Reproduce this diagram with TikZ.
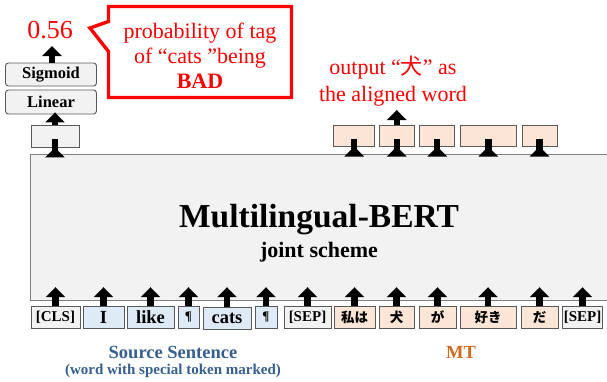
\documentclass[tikz,border=0pt]{standalone}
\usepackage{fontspec}
\setmainfont{Liberation Serif}
\newfontfamily\cjk{Noto Sans CJK JP}
\usetikzlibrary{arrows.meta,shapes.callouts}
\definecolor{boxgray}{HTML}{F2F2F2}
\definecolor{srcfill}{HTML}{DEEBF7}
\definecolor{mtfill}{HTML}{FBE5D6}
\definecolor{edge}{HTML}{595959}
\definecolor{srcblue}{HTML}{365F91}
\definecolor{mtorange}{HTML}{D2691E}
\definecolor{bertedge}{HTML}{7F7F7F}
\tikzset{
  barrow/.style={line width=6.5pt, draw=black, -{Triangle[width=19pt,length=10pt]}},
  tokbox/.style={draw=edge, line width=1pt, minimum height=22pt, inner sep=0pt},
  clsbox/.style={tokbox, fill=boxgray, font=\bfseries\fontsize{15}{15}\selectfont},
  srcbox/.style={tokbox, fill=srcfill, font=\bfseries\fontsize{18.5}{18.5}\selectfont},
  parabox/.style={tokbox, fill=srcfill, font=\bfseries\fontsize{13}{13}\selectfont},
  mtbox/.style={tokbox, fill=mtfill, font=\cjk\bfseries\fontsize{13.5}{13.5}\selectfont},
  outbox/.style={draw=edge, line width=1pt, fill=mtfill, minimum height=21pt, inner sep=0pt},
  layerbox/.style={draw=edge, line width=0.9pt, fill=boxgray, rounded corners=3pt,
    minimum width=91pt, inner sep=0pt, font=\bfseries\fontsize{16.5}{16.5}\selectfont},
  redtext/.style={text=red, inner sep=0pt, align=center, font=\fontsize{22}{25}\selectfont}
}
\begin{document}
\begin{tikzpicture}[x=1pt,y=-1pt]
\useasboundingbox (0,0) rectangle (607,381);

% BERT block
\node[fill=boxgray, draw=none, minimum width=576pt, minimum height=145pt, inner sep=0pt] (bert) at (319,227.5) {};
\draw[bertedge, line width=1.3pt] (bert.north east) -- (bert.north west) -- (bert.south west) -- (bert.south east);
\node[font=\bfseries\fontsize{33.5}{33.5}\selectfont, anchor=base, inner sep=0pt] (title) at (319,227) {Multilingual-BERT};
\node[font=\bfseries\fontsize{22}{22}\selectfont, anchor=base, inner sep=0pt] (subtitle) at (319,257) {joint scheme};

% input tokens
\node[clsbox, minimum width=49pt] (cls) at (55.5,317) {[CLS]};
\node[srcbox, minimum width=41pt] (tI) at (103.5,317) {I};
\node[srcbox, minimum width=47pt] (like) at (150.5,317) {like};
\node[parabox, minimum width=21pt] (pa) at (188.5,317) {¶};
\node[srcbox, minimum width=48pt] (cats) at (227,318) {cats};
\node[parabox, minimum width=22pt] (pb) at (266,317) {¶};
\node[clsbox, minimum width=47pt] (sepa) at (307.5,317) {[SEP]};
\node[mtbox, minimum width=41pt] (watashi) at (354.5,317) {私は};
\node[mtbox, minimum width=35pt] (inu) at (396.5,317) {犬};
\node[mtbox, minimum width=37pt] (ga) at (437.5,317) {が};
\node[mtbox, minimum width=56pt] (suki) at (488,317) {好き};
\node[mtbox, minimum width=37pt] (da) at (539.5,317) {だ};
\node[clsbox, minimum width=40pt] (sepb) at (582.5,317) {[SEP]};

\foreach \t in {cls,tI,like,pa,cats,pb,sepa,watashi,inu,ga,suki,da,sepb}
  \draw[barrow, shorten >=-13pt] (\t.north) -- (\t.north |- bert.south);

% output boxes for MT words
\node[outbox, minimum width=41pt] (oa) at (354.2,135.5) {};
\node[outbox, minimum width=35.5pt] (ob) at (396.8,135.5) {};
\node[outbox, minimum width=34.5pt] (oc) at (437.2,135.5) {};
\node[outbox, minimum width=55.5pt] (od) at (488.3,135.5) {};
\node[outbox, minimum width=35pt] (oe) at (539.5,135.5) {};
\foreach \o in {oa,ob,oc,od,oe}
  \draw[barrow, shorten <=-16pt] (\o.south |- bert.north) -- (\o.south);

\node[redtext, font=\fontsize{22}{27}\selectfont] (outtxt) at (393,81.5) {output “{\cjk 犬}” as\\the aligned word};
\coordinate (otip) at (396.8,110);
\draw[barrow] (ob.north) -- (otip);

% CLS side
\node[draw=edge, line width=0.9pt, fill=boxgray, minimum width=48pt, minimum height=22pt, inner sep=0pt] (hid) at (55,136) {};
\draw[barrow, shorten <=-16pt] (hid.south |- bert.north) -- (hid.south);
\node[layerbox, minimum height=24pt] (lin) at (51,102) {Linear};
\node[layerbox, minimum height=23pt] (sig) at (51,74.5) {Sigmoid};
\draw[barrow, shorten >=-2pt] (hid.north) -- (hid.north |- lin.south);
\node[text=red, inner sep=0pt, anchor=base, font=\fontsize{26}{26}\selectfont] (prob) at (50,38.5) {0.56};
\coordinate (ptip) at (52,46);
\draw[barrow] (sig.north -| ptip) -- (ptip);

% callout
\node[rectangle callout, draw=red, line width=3.4pt, fill=white,
  minimum width=183pt, minimum height=91pt, inner sep=0pt,
  callout absolute pointer={(90,28)}, callout pointer width=30pt] (note) at (200,52) {};
\node[redtext] (notetxt) at (200,56) {probability of tag\\of “cats ”being\\\textbf{BAD}};

% captions
\node[text=srcblue, font=\bfseries\fontsize{18.5}{18.5}\selectfont, inner sep=0pt] (src) at (173,352) {Source Sentence};
\node[text=srcblue, font=\bfseries\fontsize{15}{15}\selectfont, inner sep=0pt] (srcsub) at (173,371) {(word with special token marked)};
\node[text=mtorange, font=\bfseries\fontsize{18.5}{18.5}\selectfont, inner sep=0pt] (mt) at (461,352) {MT};
\end{tikzpicture}
\end{document}
